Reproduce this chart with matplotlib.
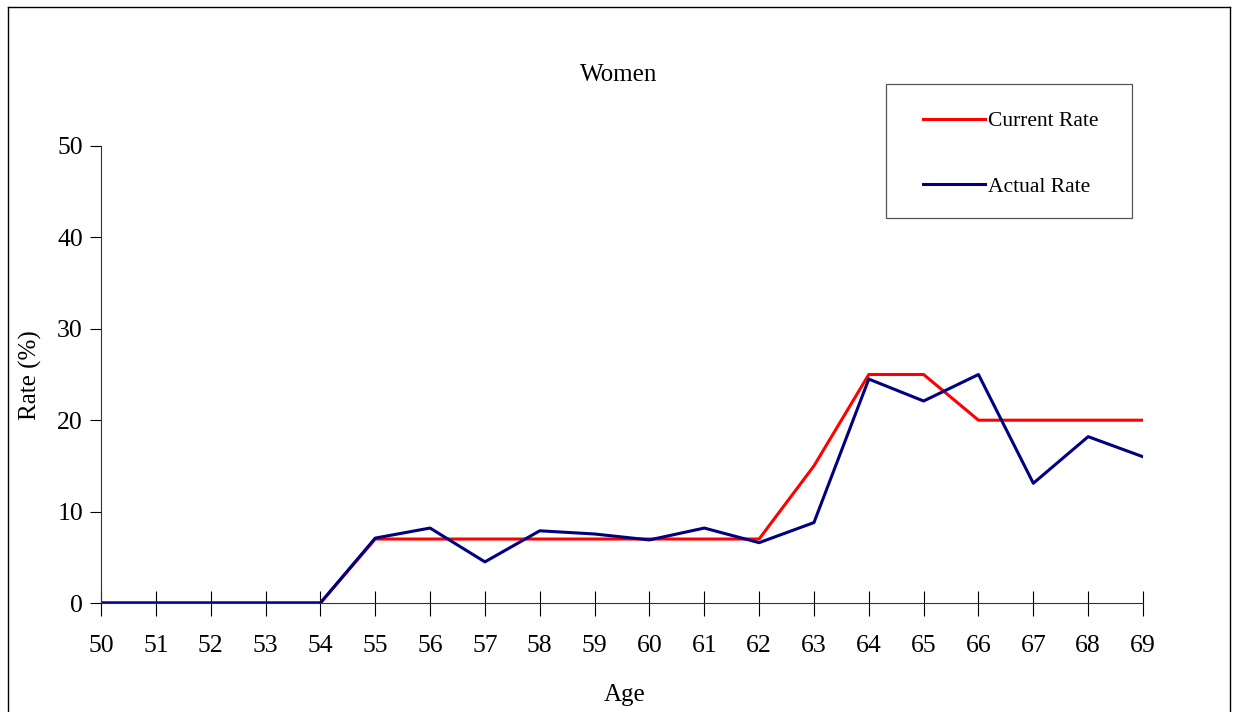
import matplotlib.pyplot as plt
from matplotlib.lines import Line2D
from matplotlib.patches import Rectangle

plt.rcParams['font.family'] = ['Liberation Serif', 'DejaVu Serif']

# data
ages = list(range(50, 70))
current_rate = [0, 0, 0, 0, 0, 7, 7, 7, 7, 7, 7, 7, 7, 15, 25, 25, 20, 20, 20, 20]
actual_rate = [0, 0, 0, 0, 0, 7.1, 8.2, 4.5, 7.9, 7.55, 6.9, 8.2, 6.6, 8.8,
               24.5, 22.1, 25.0, 13.1, 18.2, 16.0]
y_ticks = [0, 10, 20, 30, 40, 50]

W, H = 1234, 712
fig = plt.figure(figsize=(W / 100, H / 100), dpi=100)
ax = fig.add_axes([101 / W, 1 - 603 / H, (1143 - 101) / W, (603 - 146) / H])

ax.plot(ages, current_rate, color='#ff0000', lw=2.2, label='Current Rate')
ax.plot(ages, actual_rate, color='#000080', lw=2.2, label='Actual Rate')

ax.set_xlim(50, 69)
ax.set_ylim(0, 50)
ax.set_xticks(ages)
ax.set_yticks(y_ticks)
ax.spines['top'].set_visible(False)
ax.spines['right'].set_visible(False)
for s in ('left', 'bottom'):
    ax.spines[s].set_linewidth(0.8)
    ax.spines[s].set_color('#333333')
ax.tick_params(axis='x', direction='inout', length=18, width=0.8, pad=14, labelsize=18.5)
ax.tick_params(axis='y', direction='out', length=8, width=0.8, pad=5, labelsize=18.5)

fig.text(619 / W, 1 - 75 / H, 'Women', ha='center', va='center', fontsize=18)
fig.text(30 / W, 1 - 375 / H, 'Rate (%)', ha='center', va='center', rotation=90, fontsize=18)
fig.text(625 / W, 1 - 695 / H, 'Age', ha='center', va='center', fontsize=18)

# legend box drawn separately, legend entries placed inside it
fig.add_artist(Rectangle((886 / W, 1 - 218 / H), (1132 - 886) / W, (218 - 84) / H,
                         transform=fig.transFigure, fill=False,
                         edgecolor='#555555', lw=0.9))
ax.legend(loc='upper left', bbox_to_anchor=(923 / W, 1 - 111 / H),
          bbox_transform=fig.transFigure, fontsize=15.5, frameon=False,
          handlelength=2.88, handletextpad=0.14, labelspacing=2.12,
          borderpad=0, borderaxespad=0)

# outer border of the chart area
for xs, ys in [((8, 1230), (7, 7)), ((8, 8), (7, 712)), ((1230, 1230), (7, 712))]:
    fig.add_artist(Line2D([x / W for x in xs], [1 - y / H for y in ys],
                          color='black', lw=1.0, transform=fig.transFigure))

fig.savefig('out.png', dpi=100)
